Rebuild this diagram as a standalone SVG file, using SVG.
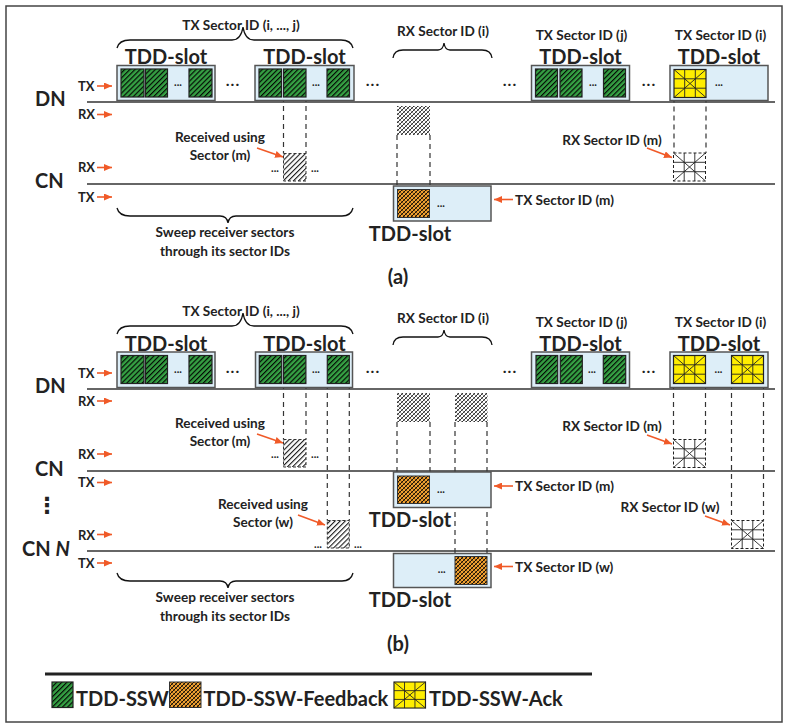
<svg xmlns="http://www.w3.org/2000/svg" width="787" height="724" viewBox="0 0 787 724">
<style>
text{font-family:Lato,"Open Sans","Liberation Sans",sans-serif;font-weight:bold;fill:#222}
.f14{font-size:13px}.f15{font-size:13.6px}.f22{font-size:20px}.f23{font-size:20px}
.m{text-anchor:middle}
.dots{font-size:16px;text-anchor:middle;letter-spacing:1px}
.sd{font-size:11px;text-anchor:middle}
.box{fill:#ddeef8;stroke:#555;stroke-width:1.5}
.ln{stroke:#333;stroke-width:1.5}
.dash{stroke:#333;stroke-width:1.2;stroke-dasharray:5 4;fill:none}
.arr{stroke:#f05a28;stroke-width:1.6;marker-end:url(#ah)}
.brace{fill:none;stroke:#111;stroke-width:1.3}
.g{fill:url(#pg);stroke:#222;stroke-width:1.2}
.o{fill:url(#po);stroke:#333;stroke-width:1}
.gr{fill:url(#pgray)}
.rv{fill:url(#ph);stroke:#333;stroke-width:1;stroke-dasharray:3 2}
</style>
<defs>
<marker id="ah" markerWidth="8" markerHeight="7" refX="8" refY="3.5" orient="auto" markerUnits="userSpaceOnUse"><path d="M0,0 L8,3.5 L0,7 z" fill="#f05a28"/></marker>
<pattern id="pg" width="3.6" height="3.6" patternUnits="userSpaceOnUse" patternTransform="rotate(45)"><rect width="3.6" height="3.6" fill="#35a043"/><line x1="0.6" y1="0" x2="0.6" y2="3.6" stroke="#000" stroke-width="1.1"/></pattern>
<pattern id="po" width="4" height="4" patternUnits="userSpaceOnUse"><rect width="4" height="4" fill="#f0a030"/><path d="M0,4 L4,0 M-1,1 L1,-1 M3,5 L5,3" stroke="#000" stroke-width="0.9"/><path d="M0,0 L4,4" stroke="#000" stroke-width="0.5"/></pattern>
<pattern id="pgray" width="4" height="4" patternUnits="userSpaceOnUse"><rect width="4" height="4" fill="#fff"/><path d="M0,4 L4,0 M-1,1 L1,-1 M3,5 L5,3" stroke="#000" stroke-width="0.8"/><path d="M0,0 L4,4" stroke="#000" stroke-width="0.45"/></pattern>
<pattern id="ph" width="3.6" height="3.6" patternUnits="userSpaceOnUse" patternTransform="rotate(45)"><rect width="3.6" height="3.6" fill="#fff"/><line x1="0.6" y1="0" x2="0.6" y2="3.6" stroke="#000" stroke-width="1"/></pattern>
<g id="ack"><rect x="0" y="0" width="32" height="28" fill="#ffee00" stroke="#222" stroke-width="1.2"/><path d="M10.7,0V28M21.3,0V28M0,9.3H32M0,18.7H32M0,0L32,28M32,0L0,28" stroke="#222" stroke-width="0.9" fill="none"/></g>
<g id="ackd"><rect x="0" y="0" width="32" height="28" fill="#fff" stroke="#222" stroke-width="1" stroke-dasharray="3 2"/><path d="M10.7,0V28M21.3,0V28M0,9.3H32M0,18.7H32M0,0L32,28M32,0L0,28" stroke="#222" stroke-width="0.9" fill="none"/></g>
</defs>
<rect x="6" y="6" width="776" height="716" fill="#fff" stroke="#444" stroke-width="1.5"/>

<g id="connectors">
<line class="ln" x1="87" y1="102" x2="775" y2="102"/>
<line class="ln" x1="87" y1="184" x2="775" y2="184"/>
<path class="dash" d="M283.5,97V153.5M306,97V153.5M397,135V189.5M430,135V189.5M674,97.5V153M706,97.5V153"/>
<line class="arr" x1="97" y1="86" x2="112" y2="86"/>
<line class="arr" x1="97" y1="114.5" x2="112" y2="114.5"/>
<line class="arr" x1="97" y1="167.5" x2="112" y2="167.5"/>
<line class="arr" x1="97" y1="197" x2="112" y2="197"/>
<line class="arr" x1="257" y1="148" x2="283" y2="157"/>
<line class="arr" x1="647" y1="148" x2="672" y2="157.5"/>
<line class="arr" x1="513" y1="199.5" x2="494" y2="199.5"/>
<path class="brace" d="M117,48 Q119,40 130,40 L232,40 Q241,40 243,27 Q245,40 254,40 L341,40 Q351,40 353,48"/>
<path class="brace" d="M393,58 Q394,50 403,50 L438,50 Q443,50 444,43 Q445,50 450,50 L482,50 Q491,50 492,58"/>
<path class="brace" d="M117,208 Q119,216 130,216 L220,216 Q227,216 228,223 Q229,216 236,216 L342,216 Q351,216 353,208"/>
<line class="ln" x1="87" y1="389" x2="775" y2="389"/>
<line class="ln" x1="87" y1="471" x2="775" y2="471"/>
<line class="ln" x1="87" y1="551" x2="775" y2="551"/>
<path class="dash" d="M283.5,384V439.5M306,384V439.5M327.3,384V520.5M349.3,384V520.5M397,422V476M430,422V476M455,422V556.5M487,422V556.5M673.5,384V439.5M705.5,384V439.5M731.5,384V520.5M763.5,384V520.5"/>
<line class="arr" x1="97" y1="373" x2="112" y2="373"/>
<line class="arr" x1="97" y1="401" x2="112" y2="401"/>
<line class="arr" x1="97" y1="454" x2="112" y2="454"/>
<line class="arr" x1="97" y1="482.5" x2="112" y2="482.5"/>
<line class="arr" x1="97" y1="534.5" x2="112" y2="534.5"/>
<line class="arr" x1="97" y1="563" x2="112" y2="563"/>
<line class="arr" x1="257" y1="434" x2="283" y2="443"/>
<line class="arr" x1="298" y1="515" x2="325" y2="525"/>
<line class="arr" x1="647" y1="435" x2="672" y2="444"/>
<line class="arr" x1="705" y1="516" x2="730" y2="525"/>
<line class="arr" x1="513" y1="486" x2="494" y2="486"/>
<line class="arr" x1="513" y1="566.5" x2="494" y2="566.5"/>
<path class="brace" d="M117,334 Q119,326 130,326 L232,326 Q241,326 243,313 Q245,326 254,326 L341,326 Q351,326 353,334"/>
<path class="brace" d="M393,345 Q394,337 403,337 L438,337 Q443,337 444,330 Q445,337 450,337 L482,337 Q491,337 492,345"/>
<path class="brace" d="M117,573 Q119,581 130,581 L220,581 Q227,581 228,588 Q229,581 236,581 L342,581 Q351,581 353,573"/>
</g>

<g id="a-labels">
<text class="f23" x="35" y="106">DN</text>
<text class="f14" x="78" y="91">TX</text>
<text class="f14" x="78" y="119">RX</text>
<text class="f23" x="35" y="188">CN</text>
<text class="f14" x="78" y="171.5">RX</text>
<text class="f14" x="78" y="201.5">TX</text>
<text class="f15 m" x="241" y="30">TX Sector ID (i, ..., j)</text>
<text class="f15 m" x="443" y="36">RX Sector ID (i)</text>
<text class="f15 m" x="581.5" y="40">TX Sector ID (j)</text>
<text class="f15 m" x="720.5" y="40">TX Sector ID (i)</text>
<text class="dots" x="233" y="86">...</text>
<text class="dots" x="373" y="86">...</text>
<text class="dots" x="510" y="86">...</text>
<text class="dots" x="649" y="86">...</text>
<text class="f15 m" x="225" y="236.5">Sweep receiver sectors</text>
<text class="f15 m" x="225" y="256">through its sector IDs</text>
<text class="f22 m" x="398" y="284">(a)</text>
</g>
<g id="a-dn-slot1">
<text class="f22 m" x="166" y="64">TDD-slot</text>
<rect class="box" x="117" y="65.5" width="98" height="35"/>
<rect class="g" x="121" y="69" width="23" height="28"/>
<rect class="g" x="145.5" y="69" width="22" height="28"/>
<text class="sd" x="178" y="86">...</text>
<rect class="g" x="189" y="69" width="23" height="28"/>
</g>
<g id="a-dn-slot2">
<text class="f22 m" x="304.5" y="64">TDD-slot</text>
<rect class="box" x="255" y="65.5" width="99" height="35"/>
<rect class="g" x="259" y="69" width="22.5" height="28"/>
<rect class="g" x="283.5" y="69" width="22.5" height="28"/>
<text class="sd" x="316" y="86">...</text>
<rect class="g" x="327" y="69" width="22.5" height="28"/>
</g>
<g id="a-dn-slot3">
<text class="f22 m" x="580.5" y="64">TDD-slot</text>
<rect class="box" x="531.5" y="65.5" width="98" height="35"/>
<rect class="g" x="535.5" y="69" width="22" height="28"/>
<rect class="g" x="560" y="69" width="22" height="28"/>
<text class="sd" x="593" y="86">...</text>
<rect class="g" x="603.5" y="69" width="22" height="28"/>
</g>
<g id="a-dn-slot4">
<text class="f22 m" x="719" y="64">TDD-slot</text>
<rect class="box" x="670" y="65.5" width="98" height="35"/>
<use href="#ack" x="674" y="69.5"/>
<text class="sd" x="719" y="86">...</text>
</g>
<g id="a-rx-i"><rect class="gr" x="397" y="106" width="33" height="29"/></g>
<g id="a-recv-m">
<text class="f15 m" x="220" y="142">Received using</text>
<text class="f15 m" x="220" y="160">Sector (m)</text>
<rect class="rv" x="283.5" y="153.5" width="22.5" height="27.5"/>
<text class="sd" x="275" y="172">...</text>
<text class="sd" x="315" y="172">...</text>
</g>
<g id="a-rx-m">
<text class="f15 m" x="612" y="145">RX Sector ID (m)</text>
<use href="#ackd" x="673.5" y="153"/>
</g>
<g id="a-cn-slot">
<rect class="box" x="393.5" y="186" width="97.5" height="35"/>
<rect class="o" x="397.5" y="189.5" width="32" height="28"/>
<text class="sd" x="441" y="207">...</text>
<text class="f22 m" x="410" y="240.5">TDD-slot</text>
<text class="f15" x="515" y="204.5">TX Sector ID (m)</text>
</g>

<g id="b-labels">
<text class="f23" x="35" y="393">DN</text>
<text class="f14" x="78" y="378">TX</text>
<text class="f14" x="78" y="405.5">RX</text>
<text class="f23" x="35" y="476">CN</text>
<text class="f14" x="78" y="459">RX</text>
<text class="f14" x="78" y="487">TX</text>
<text x="47" y="513" style="font-size:22px;text-anchor:middle;font-family:'DejaVu Sans',sans-serif">⋮</text>
<text class="f23" x="22" y="556">CN <tspan font-style="italic">N</tspan></text>
<text class="f14" x="78" y="539.5">RX</text>
<text class="f14" x="78" y="567.5">TX</text>
<text class="f15 m" x="241" y="316">TX Sector ID (i, ..., j)</text>
<text class="f15 m" x="443" y="323">RX Sector ID (i)</text>
<text class="f15 m" x="581.5" y="327">TX Sector ID (j)</text>
<text class="f15 m" x="720.5" y="327">TX Sector ID (i)</text>
<text class="dots" x="233" y="373">...</text>
<text class="dots" x="373" y="373">...</text>
<text class="dots" x="510" y="373">...</text>
<text class="dots" x="649" y="373">...</text>
<text class="f15 m" x="225" y="602">Sweep receiver sectors</text>
<text class="f15 m" x="225" y="621">through its sector IDs</text>
<text class="f22 m" x="398" y="651">(b)</text>
</g>
<g id="b-dn-slot1">
<text class="f22 m" x="166" y="351">TDD-slot</text>
<rect class="box" x="117" y="352" width="98" height="35.5"/>
<rect class="g" x="121" y="355.5" width="23" height="28"/>
<rect class="g" x="145.5" y="355.5" width="22" height="28"/>
<text class="sd" x="178" y="373">...</text>
<rect class="g" x="189" y="355.5" width="23" height="28"/>
</g>
<g id="b-dn-slot2">
<text class="f22 m" x="304.5" y="351">TDD-slot</text>
<rect class="box" x="255.5" y="352" width="97" height="35.5"/>
<rect class="g" x="259.3" y="355.5" width="22.4" height="28"/>
<rect class="g" x="283.5" y="355.5" width="22.4" height="28"/>
<text class="sd" x="316" y="373">...</text>
<rect class="g" x="327.3" y="355.5" width="22" height="28"/>
</g>
<g id="b-dn-slot3">
<text class="f22 m" x="580.5" y="351">TDD-slot</text>
<rect class="box" x="531.5" y="352" width="98" height="35.5"/>
<rect class="g" x="536" y="355.5" width="21.7" height="28"/>
<rect class="g" x="560.3" y="355.5" width="22" height="28"/>
<text class="sd" x="592" y="373">...</text>
<rect class="g" x="603.3" y="355.5" width="22.4" height="28"/>
</g>
<g id="b-dn-slot4">
<text class="f22 m" x="719" y="351">TDD-slot</text>
<rect class="box" x="670" y="352" width="98" height="35.5"/>
<use href="#ack" x="673.5" y="355.5"/>
<text class="sd" x="718.5" y="373">...</text>
<use href="#ack" x="731.5" y="355.5"/>
</g>
<g id="b-rx-i">
<rect class="gr" x="397" y="393" width="33" height="29"/>
<rect class="gr" x="455" y="393" width="32.5" height="29"/>
</g>
<g id="b-recv-m">
<text class="f15 m" x="220" y="428">Received using</text>
<text class="f15 m" x="220" y="446">Sector (m)</text>
<rect class="rv" x="283.5" y="439.5" width="22.5" height="27.5"/>
<text class="sd" x="275" y="458">...</text>
<text class="sd" x="315" y="458">...</text>
</g>
<g id="b-recv-w">
<text class="f15 m" x="263" y="509">Received using</text>
<text class="f15 m" x="263" y="527">Sector (w)</text>
<rect class="rv" x="327.3" y="520.5" width="22" height="27.5"/>
<text class="sd" x="318" y="548">...</text>
<text class="sd" x="358" y="548">...</text>
</g>
<g id="b-rx-m">
<text class="f15 m" x="612" y="431">RX Sector ID (m)</text>
<use href="#ackd" x="673.5" y="439.5"/>
</g>
<g id="b-rx-w">
<text class="f15 m" x="670" y="512">RX Sector ID (w)</text>
<use href="#ackd" x="731.5" y="520.5"/>
</g>
<g id="b-cn-slot">
<rect class="box" x="393.5" y="472" width="97.5" height="35.5"/>
<rect class="o" x="397.5" y="476" width="32" height="27.5"/>
<text class="sd" x="441" y="493">...</text>
<text class="f22 m" x="410" y="526.5">TDD-slot</text>
<text class="f15" x="515" y="491">TX Sector ID (m)</text>
</g>
<g id="b-cnn-slot">
<rect class="box" x="393.5" y="553.5" width="97.5" height="34"/>
<rect class="o" x="455" y="556.5" width="32" height="28"/>
<text class="sd" x="441.7" y="573">...</text>
<text class="f22 m" x="410" y="606.5">TDD-slot</text>
<text class="f15" x="515" y="571.5">TX Sector ID (w)</text>
</g>

<g id="legend">
<line x1="45" y1="674" x2="592" y2="674" stroke="#222" stroke-width="3"/>
<rect class="g" x="52" y="682" width="21" height="25.5"/>
<text class="f22" x="76" y="706">TDD-SSW</text>
<rect class="o" x="169.5" y="682" width="31.5" height="25.5"/>
<text class="f22" x="203.5" y="706">TDD-SSW-Feedback</text>
<g transform="translate(394,682) scale(0.984,0.93)"><use href="#ack"/></g>
<text class="f22" x="429" y="706">TDD-SSW-Ack</text>
</g>
</svg>
